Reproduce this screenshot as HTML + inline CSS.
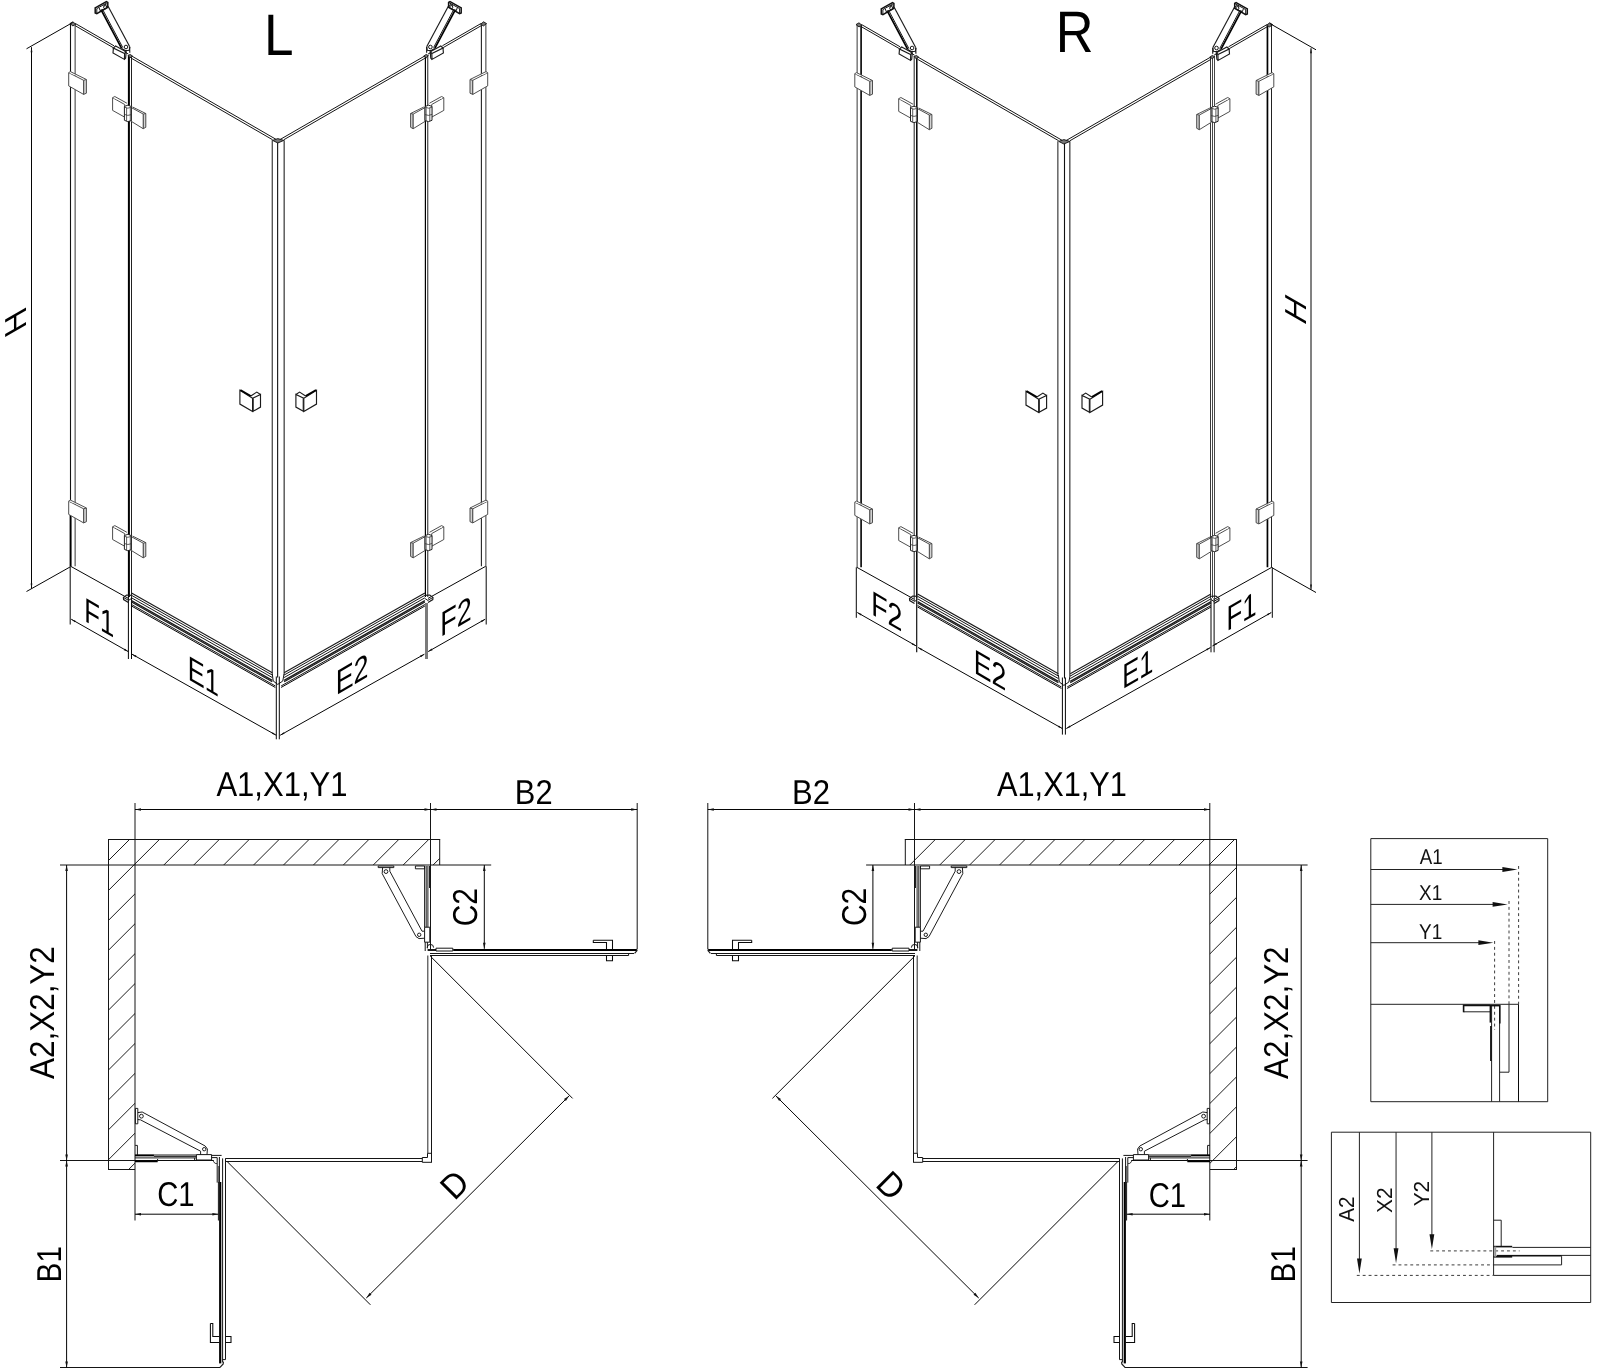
<!DOCTYPE html>
<html><head><meta charset="utf-8"><meta name="domain" content="Diagram"><title>drawing</title>
<style>
html,body{margin:0;padding:0;background:#fff}
body{width:1600px;height:1371px;overflow:hidden}
svg{display:block;will-change:transform}
path,circle{fill:none;stroke:#111;stroke-width:1.1;stroke-linecap:butt;stroke-linejoin:miter}
.k{stroke:#1a1a1a;stroke-width:1.15}
.k2{stroke:#151515;stroke-width:1}
.kb{stroke:#000;stroke-width:1.7}
.kf{fill:#777;stroke:#111;stroke-width:0.9}
.kw{fill:#fff;stroke:#111;stroke-width:1.5}
.t{stroke:#050505;stroke-width:1}
.w{stroke:#151515;stroke-width:1}
.w1{stroke:#0a0a0a;stroke-width:1.05}
.ks{stroke:#1a1a1a;stroke-width:1.25}
.p{stroke:#111;stroke-width:0.95}
.h{stroke:#111;stroke-width:0.95}
.hp{stroke:#444;stroke-width:0.95;fill:#fff}
.hb{stroke:#222;stroke-width:1;fill:#fff}
.hb2{stroke:#333;stroke-width:0.8}
.hs{stroke:#444;stroke-width:0.95;fill:#d4d4d4}
.af{fill:#111;stroke:none}
.b{stroke:#222;stroke-width:1}
.bb{stroke:#111;stroke-width:1.6}
.gb{stroke:#999;stroke-width:2}
.d{stroke:#333;stroke-width:0.95;stroke-dasharray:2.9 3}
text{font-family:"Liberation Sans",sans-serif;fill:#000;text-rendering:geometricPrecision}
.tx{fill:#000}
.ta{fill:#111}
</style></head><body>
<svg width="1600" height="1371" viewBox="0 0 1600 1371">
<defs>
<clipPath id="cl"><path d="M108.5 839.5H439.7V865H135V1169.5H108.5Z"/></clipPath>
<clipPath id="cr"><path d="M1236.4 839.5H905.2V865H1209.9V1169.5H1236.4Z"/></clipPath>
</defs>
<rect x="0" y="0" width="1600" height="1371" fill="#fff"/>
<g id="isoL">
<g><path d="M70.5 23.3L70.5 566.3" style="stroke:#111;stroke-width:1.1"/>
<path d="M75.13 24.5L75.13 566.3" style="stroke:#444;stroke-width:1.07"/>
<path d="M70.6 514.8L70.6 566.3" style="stroke:#000;stroke-width:1.9"/>
<path class="kf" d="M69.9 23.6L72.9 21.8L75.8 24.3L72.9 25.9Z"/>
<path class="k2" d="M75.2 23.4L114 45.8"/>
<path class="k2" d="M75.2 25.7L113.2 47.64"/>
<path class="k2" d="M124.5 51.86L128.4 54.12"/>
<path class="t" d="M70.7 566.3L128.4 598.41"/>
<path d="M128.9 55.16L128.9 597" style="stroke:#000;stroke-width:2"/>
<path d="M131.5 56.2L131.5 597" style="stroke:#222;stroke-width:1"/>
<path class="t" d="M128.4 597L128.4 659"/>
<path class="t" d="M131.5 597L131.5 659"/>
<path class="k2" d="M131.5 55.9L277.5 140.19"/>
<path class="k2" d="M131.5 58.3L272.6 139.76"/>
<path class="kf" d="M128.1 55.6L130.2 54.4L132.7 56.2L130 57.8Z"/>
<path class="k" d="M131.5 592.9L272.3 672.66"/>
<path class="k2" d="M131.5 595.3L272.3 675.06"/>
<path class="k2" d="M131.5 597.8L272.3 677.56"/>
<path class="ks" d="M131.5 600.6L272.3 680.36"/>
<path class="ks" d="M131.5 602L272.3 681.76"/>
<path class="k2" d="M131.5 604.5L275.3 685.96"/>
<path class="t" d="M131.5 606L275.3 687.46"/>
<path class="k" d="M131.3 595.4L126.6 595L123.4 597.4L123.6 599.6L128.4 602.6"/>
<path class="k2" d="M123.4 597.4L128.6 600.4L131.3 598.6"/>
<path class="hs" d="M83.6 80.3L86.4 79.5L86.4 93.2L83.6 94.4Z"/>
<path class="hp" d="M68.7 72.7L83.6 80.3L83.6 94.4L68.7 85.9Z"/>
<path class="hp" d="M68.7 72.7L70.4 71.6L86.4 79.5"/>
<path class="hs" d="M83.6 508.8L86.4 508L86.4 521.7L83.6 522.9Z"/>
<path class="hp" d="M68.7 501.2L83.6 508.8L83.6 522.9L68.7 514.4Z"/>
<path class="hp" d="M68.7 501.2L70.4 500.1L86.4 508"/>
<path class="hp" d="M112.6 97.7L124.7 104.5L124.7 117.15L112.6 110.4Z"/>
<path class="hp" d="M112.6 97.7L114.8 96.5L126.9 103.2"/>
<path class="hs" d="M143.2 114.05L145.8 113.5L145.8 127.3L143.2 128.7Z"/>
<path class="hp" d="M131.4 107.6L143.2 114.05L143.2 128.7L131.4 121.4Z"/>
<path class="hp" d="M132.55 107L145.8 113.5"/>
<path class="hb" d="M124.4 106.4L124.4 120.3L127.8 121.6L131.4 120.6L131.4 106.6L127.9 105.2Z"/>
<path class="hb2" d="M124.4 114.4L127.8 115.4L131.4 114.6"/>
<path class="hb2" d="M124.4 107.2L127.8 108.2L131.4 107.2"/>
<path class="hb2" d="M126.6 107.8L126.6 121.2"/>
<path class="hb2" d="M130.3 107.6L130.3 121"/>
<path class="hp" d="M112.6 526.8L124.7 533.6L124.7 546.25L112.6 539.5Z"/>
<path class="hp" d="M112.6 526.8L114.8 525.6L126.9 532.3"/>
<path class="hs" d="M143.2 543.15L145.8 542.6L145.8 556.4L143.2 557.8Z"/>
<path class="hp" d="M131.4 536.7L143.2 543.15L143.2 557.8L131.4 550.5Z"/>
<path class="hp" d="M132.55 536.1L145.8 542.6"/>
<path class="hb" d="M124.4 535.5L124.4 549.4L127.8 550.7L131.4 549.7L131.4 535.7L127.9 534.3Z"/>
<path class="hb2" d="M124.4 543.5L127.8 544.5L131.4 543.7"/>
<path class="hb2" d="M124.4 536.3L127.8 537.3L131.4 536.3"/>
<path class="hb2" d="M126.6 536.9L126.6 550.3"/>
<path class="hb2" d="M130.3 536.7L130.3 550.1"/>
<path class="kw" d="M95.2 7.8L106.4 1.6L107.8 2.4L107.8 7.2L96.8 13.6L95.2 13Z"/>
<path class="k2" d="M96.8 8.6L96.8 13.6"/>
<path class="k2" d="M96.8 8.6L107.8 2.4"/>
<path class="kb" d="M101 9.6L121.6 48.4"/>
<path class="k2" d="M102.4 9L122.8 47.6"/>
<path class="k" d="M108.2 6.6L129.6 46.4"/>
<path class="k2" d="M103.5 5.5L106 4.4L108.2 6.6"/>
<path class="k2" d="M99.2 8L100.2 10.8L102.8 10"/>
<circle class="k2" cx="105.2" cy="7.2" r="1.6"/>
<path class="k" d="M121.6 48.4L125.2 50.6L129.2 50.2L129.9 46.8"/>
<circle class="k2" cx="126" cy="47" r="1.8"/>
<path class="k" d="M129.6 46.4L129.8 52.8"/>
<path class="k" d="M113.4 48L115.6 46L126.2 51.8L124.6 53.6Z"/>
<path class="k" d="M113.4 48L113 53L124.4 59.4L124.6 53.6"/>
<path class="k" d="M124.4 59.4L125.6 58.2L126.2 51.8"/>
<path class="k" d="M239.9 390.3L252.6 398.2L252.6 411.6L239.9 404.1Z"/>
<path class="k" d="M252.6 398.2L260.5 394.4L260.5 407.1L252.6 411.6"/>
<path class="k" d="M250.8 395.9L256.8 392.1L260.5 394.4"/>
<path class="kb" d="M240.4 390L250.8 395.9"/>
<path class="k2" d="M253.2 398.4L253.2 411.2"/>
<path class="t" d="M70.2 566.3L70.2 624.5"/>
<path class="t" d="M71.2 619.2L128.2 651.58"/>
<path class="af" d="M128.2 651.58L123.84 650.14L124.73 648.57Z"/>
<path class="af" d="M71.2 619.2L75.56 620.64L74.67 622.21Z"/>
<path class="t" d="M132 654.2L276.2 735.24"/>
<path class="af" d="M276.2 735.24L271.84 733.82L272.72 732.25Z"/>
<path class="af" d="M132 654.2L136.36 655.62L135.48 657.19Z"/>
<path class="t" d="M72.7 22.5L26.5 48.8"/>
<path class="t" d="M70.2 566.9L26.5 591.5"/>
<path class="t" d="M31.5 47.2L31.5 588.6"/>
<path class="af" d="M31.5 588.6L30.6 583.6L32.4 583.6Z"/>
<path class="af" d="M31.5 47.2L32.4 52.2L30.6 52.2Z"/></g>
<g transform="translate(556.4 0) scale(-1 1)"><path d="M70.53 23.3L70.53 566.3" style="stroke:#444;stroke-width:1.07"/>
<path d="M75 24.5L75 566.3" style="stroke:#222;stroke-width:1.1"/>
<path class="kf" d="M69.9 23.6L72.9 21.8L75.8 24.3L72.9 25.9Z"/>
<path class="k2" d="M75.2 23.4L114 45.8"/>
<path class="k2" d="M75.2 25.7L113.2 47.64"/>
<path class="k2" d="M124.5 51.86L128.4 54.12"/>
<path class="t" d="M70.7 566.3L128.4 598.41"/>
<path d="M128.7 55.08L128.7 597" style="stroke:#555;stroke-width:1.3"/>
<path d="M131 56L131 597" style="stroke:#000;stroke-width:1.2"/>
<path d="M129.9 603L129.9 659" style="stroke:#7a7a7a;stroke-width:3"/>
<path class="k2" d="M131.5 55.9L277.5 140.19"/>
<path class="k2" d="M131.5 58.3L272.6 139.76"/>
<path class="kf" d="M128.1 55.6L130.2 54.4L132.7 56.2L130 57.8Z"/>
<path class="k" d="M131.5 592.9L272.3 672.66"/>
<path class="k2" d="M131.5 595.3L272.3 675.06"/>
<path class="k2" d="M131.5 597.8L272.3 677.56"/>
<path class="ks" d="M131.5 600.6L272.3 680.36"/>
<path class="ks" d="M131.5 602L272.3 681.76"/>
<path class="k2" d="M131.5 604.5L275.3 685.96"/>
<path class="t" d="M131.5 606L275.3 687.46"/>
<path class="k" d="M131.3 595.4L126.6 595L123.4 597.4L123.6 599.6L128.4 602.6"/>
<path class="k2" d="M123.4 597.4L128.6 600.4L131.3 598.6"/>
<path class="hs" d="M83.6 80.3L86.4 79.5L86.4 93.2L83.6 94.4Z"/>
<path class="hp" d="M68.7 72.7L83.6 80.3L83.6 94.4L68.7 85.9Z"/>
<path class="hp" d="M68.7 72.7L70.4 71.6L86.4 79.5"/>
<path class="hs" d="M83.6 508.8L86.4 508L86.4 521.7L83.6 522.9Z"/>
<path class="hp" d="M68.7 501.2L83.6 508.8L83.6 522.9L68.7 514.4Z"/>
<path class="hp" d="M68.7 501.2L70.4 500.1L86.4 508"/>
<path class="hp" d="M112.6 97.7L124.7 104.5L124.7 117.15L112.6 110.4Z"/>
<path class="hp" d="M112.6 97.7L114.8 96.5L126.9 103.2"/>
<path class="hs" d="M143.2 114.05L145.8 113.5L145.8 127.3L143.2 128.7Z"/>
<path class="hp" d="M131.4 107.6L143.2 114.05L143.2 128.7L131.4 121.4Z"/>
<path class="hp" d="M132.55 107L145.8 113.5"/>
<path class="hb" d="M124.4 106.4L124.4 120.3L127.8 121.6L131.4 120.6L131.4 106.6L127.9 105.2Z"/>
<path class="hb2" d="M124.4 114.4L127.8 115.4L131.4 114.6"/>
<path class="hb2" d="M124.4 107.2L127.8 108.2L131.4 107.2"/>
<path class="hb2" d="M126.6 107.8L126.6 121.2"/>
<path class="hb2" d="M130.3 107.6L130.3 121"/>
<path class="hp" d="M112.6 526.8L124.7 533.6L124.7 546.25L112.6 539.5Z"/>
<path class="hp" d="M112.6 526.8L114.8 525.6L126.9 532.3"/>
<path class="hs" d="M143.2 543.15L145.8 542.6L145.8 556.4L143.2 557.8Z"/>
<path class="hp" d="M131.4 536.7L143.2 543.15L143.2 557.8L131.4 550.5Z"/>
<path class="hp" d="M132.55 536.1L145.8 542.6"/>
<path class="hb" d="M124.4 535.5L124.4 549.4L127.8 550.7L131.4 549.7L131.4 535.7L127.9 534.3Z"/>
<path class="hb2" d="M124.4 543.5L127.8 544.5L131.4 543.7"/>
<path class="hb2" d="M124.4 536.3L127.8 537.3L131.4 536.3"/>
<path class="hb2" d="M126.6 536.9L126.6 550.3"/>
<path class="hb2" d="M130.3 536.7L130.3 550.1"/>
<path class="kw" d="M95.2 7.8L106.4 1.6L107.8 2.4L107.8 7.2L96.8 13.6L95.2 13Z"/>
<path class="k2" d="M96.8 8.6L96.8 13.6"/>
<path class="k2" d="M96.8 8.6L107.8 2.4"/>
<path class="kb" d="M101 9.6L121.6 48.4"/>
<path class="k2" d="M102.4 9L122.8 47.6"/>
<path class="k" d="M108.2 6.6L129.6 46.4"/>
<path class="k2" d="M103.5 5.5L106 4.4L108.2 6.6"/>
<path class="k2" d="M99.2 8L100.2 10.8L102.8 10"/>
<circle class="k2" cx="105.2" cy="7.2" r="1.6"/>
<path class="k" d="M121.6 48.4L125.2 50.6L129.2 50.2L129.9 46.8"/>
<circle class="k2" cx="126" cy="47" r="1.8"/>
<path class="k" d="M129.6 46.4L129.8 52.8"/>
<path class="k" d="M113.4 48L115.6 46L126.2 51.8L124.6 53.6Z"/>
<path class="k" d="M113.4 48L113 53L124.4 59.4L124.6 53.6"/>
<path class="k" d="M124.4 59.4L125.6 58.2L126.2 51.8"/>
<path class="k" d="M239.9 390.3L252.6 398.2L252.6 411.6L239.9 404.1Z"/>
<path class="k" d="M252.6 398.2L260.5 394.4L260.5 407.1L252.6 411.6"/>
<path class="k" d="M250.8 395.9L256.8 392.1L260.5 394.4"/>
<path class="kb" d="M240.4 390L250.8 395.9"/>
<path class="k2" d="M253.2 398.4L253.2 411.2"/>
<path class="t" d="M70.2 566.3L70.2 624.5"/>
<path class="t" d="M71.2 619.2L128.2 651.58"/>
<path class="af" d="M128.2 651.58L123.84 650.14L124.73 648.57Z"/>
<path class="af" d="M71.2 619.2L75.56 620.64L74.67 622.21Z"/>
<path class="t" d="M132 654.2L276.2 735.24"/>
<path class="af" d="M276.2 735.24L271.84 733.82L272.72 732.25Z"/>
<path class="af" d="M132 654.2L136.36 655.62L135.48 657.19Z"/></g>
<path d="M272.23 140.2L272.23 674.5" style="stroke:#222;stroke-width:1.05"/>
<path d="M277.63 142L277.63 677.5" style="stroke:#111;stroke-width:1.1"/>
<path d="M284.15 140.2L284.15 674.5" style="stroke:#222;stroke-width:1.1"/>
<path class="kf" d="M272.6 140.4L277.8 138.6L283.8 140.4L277.8 143Z"/>
<path class="k2" d="M272.3 674L273.2 681L277.8 684.4L282.8 681L284 674"/>
<path class="t" d="M276.3 676.5L276.3 739.3"/>
<path class="t" d="M279.3 676.5L279.3 739.3"/>
<text class="tx" x="-2.11" y="0" font-size="34.5" textLength="29.88" lengthAdjust="spacingAndGlyphs" transform="matrix(1 0.58 0 1 86.4 622)">F1</text>
<text class="tx" x="-2.1" y="0" font-size="34.5" textLength="31.12" lengthAdjust="spacingAndGlyphs" transform="matrix(1 0.58 0 1 189.9 680.3)">E1</text>
<text class="tx" x="-2.22" y="0" font-size="34.5" textLength="32.88" lengthAdjust="spacingAndGlyphs" transform="matrix(1 -0.58 0 1 337.9 694.1)">E2</text>
<text class="tx" x="-2.22" y="0" font-size="34.5" textLength="31.42" lengthAdjust="spacingAndGlyphs" transform="matrix(1 -0.58 0 1 442.4 636)">F2</text>
<text class="tx" x="0" y="0" font-size="35" textLength="22.5" lengthAdjust="spacingAndGlyphs" transform="matrix(0 -1 0.866 -0.5 26.2 327.45)">H</text>
</g>
<g id="isoR" transform="translate(786.1 1)">
<g><path d="M71.03 23.3L71.03 566.3" style="stroke:#444;stroke-width:1.07"/>
<path d="M75 24.5L75 566.3" style="stroke:#000;stroke-width:1.6"/>
<path class="kf" d="M69.9 23.6L72.9 21.8L75.8 24.3L72.9 25.9Z"/>
<path class="k2" d="M75.2 23.4L114 45.8"/>
<path class="k2" d="M75.2 25.7L113.2 47.64"/>
<path class="k2" d="M124.5 51.86L128.4 54.12"/>
<path class="t" d="M70.7 566.3L128.4 598.41"/>
<path d="M128.1 54.84L128.1 597" style="stroke:#333;stroke-width:1.1"/>
<path d="M130.7 55.88L130.7 597" style="stroke:#000;stroke-width:1.5"/>
<path d="M130.6 597L130.6 651.3" style="stroke:#111;stroke-width:1.2"/>
<path d="M128.3 597L128.3 600" style="stroke:#555;stroke-width:1"/>
<path class="k2" d="M131.5 55.9L277.5 140.19"/>
<path class="k2" d="M131.5 58.3L272.6 139.76"/>
<path class="kf" d="M128.1 55.6L130.2 54.4L132.7 56.2L130 57.8Z"/>
<path class="k" d="M131.5 592.9L272.3 672.66"/>
<path class="k2" d="M131.5 595.3L272.3 675.06"/>
<path class="k2" d="M131.5 597.8L272.3 677.56"/>
<path class="ks" d="M131.5 600.6L272.3 680.36"/>
<path class="ks" d="M131.5 602L272.3 681.76"/>
<path class="k2" d="M131.5 604.5L275.3 685.96"/>
<path class="t" d="M131.5 606L275.3 687.46"/>
<path class="k" d="M131.3 595.4L126.6 595L123.4 597.4L123.6 599.6L128.4 602.6"/>
<path class="k2" d="M123.4 597.4L128.6 600.4L131.3 598.6"/>
<path class="hs" d="M83.6 80.3L86.4 79.5L86.4 93.2L83.6 94.4Z"/>
<path class="hp" d="M68.7 72.7L83.6 80.3L83.6 94.4L68.7 85.9Z"/>
<path class="hp" d="M68.7 72.7L70.4 71.6L86.4 79.5"/>
<path class="hs" d="M83.6 508.8L86.4 508L86.4 521.7L83.6 522.9Z"/>
<path class="hp" d="M68.7 501.2L83.6 508.8L83.6 522.9L68.7 514.4Z"/>
<path class="hp" d="M68.7 501.2L70.4 500.1L86.4 508"/>
<path class="hp" d="M112.6 97.7L124.7 104.5L124.7 117.15L112.6 110.4Z"/>
<path class="hp" d="M112.6 97.7L114.8 96.5L126.9 103.2"/>
<path class="hs" d="M143.2 114.05L145.8 113.5L145.8 127.3L143.2 128.7Z"/>
<path class="hp" d="M131.4 107.6L143.2 114.05L143.2 128.7L131.4 121.4Z"/>
<path class="hp" d="M132.55 107L145.8 113.5"/>
<path class="hb" d="M124.4 106.4L124.4 120.3L127.8 121.6L131.4 120.6L131.4 106.6L127.9 105.2Z"/>
<path class="hb2" d="M124.4 114.4L127.8 115.4L131.4 114.6"/>
<path class="hb2" d="M124.4 107.2L127.8 108.2L131.4 107.2"/>
<path class="hb2" d="M126.6 107.8L126.6 121.2"/>
<path class="hb2" d="M130.3 107.6L130.3 121"/>
<path class="hp" d="M112.6 526.8L124.7 533.6L124.7 546.25L112.6 539.5Z"/>
<path class="hp" d="M112.6 526.8L114.8 525.6L126.9 532.3"/>
<path class="hs" d="M143.2 543.15L145.8 542.6L145.8 556.4L143.2 557.8Z"/>
<path class="hp" d="M131.4 536.7L143.2 543.15L143.2 557.8L131.4 550.5Z"/>
<path class="hp" d="M132.55 536.1L145.8 542.6"/>
<path class="hb" d="M124.4 535.5L124.4 549.4L127.8 550.7L131.4 549.7L131.4 535.7L127.9 534.3Z"/>
<path class="hb2" d="M124.4 543.5L127.8 544.5L131.4 543.7"/>
<path class="hb2" d="M124.4 536.3L127.8 537.3L131.4 536.3"/>
<path class="hb2" d="M126.6 536.9L126.6 550.3"/>
<path class="hb2" d="M130.3 536.7L130.3 550.1"/>
<path class="kw" d="M95.2 7.8L106.4 1.6L107.8 2.4L107.8 7.2L96.8 13.6L95.2 13Z"/>
<path class="k2" d="M96.8 8.6L96.8 13.6"/>
<path class="k2" d="M96.8 8.6L107.8 2.4"/>
<path class="kb" d="M101 9.6L121.6 48.4"/>
<path class="k2" d="M102.4 9L122.8 47.6"/>
<path class="k" d="M108.2 6.6L129.6 46.4"/>
<path class="k2" d="M103.5 5.5L106 4.4L108.2 6.6"/>
<path class="k2" d="M99.2 8L100.2 10.8L102.8 10"/>
<circle class="k2" cx="105.2" cy="7.2" r="1.6"/>
<path class="k" d="M121.6 48.4L125.2 50.6L129.2 50.2L129.9 46.8"/>
<circle class="k2" cx="126" cy="47" r="1.8"/>
<path class="k" d="M129.6 46.4L129.8 52.8"/>
<path class="k" d="M113.4 48L115.6 46L126.2 51.8L124.6 53.6Z"/>
<path class="k" d="M113.4 48L113 53L124.4 59.4L124.6 53.6"/>
<path class="k" d="M124.4 59.4L125.6 58.2L126.2 51.8"/>
<path class="k" d="M239.9 390.3L252.6 398.2L252.6 411.6L239.9 404.1Z"/>
<path class="k" d="M252.6 398.2L260.5 394.4L260.5 407.1L252.6 411.6"/>
<path class="k" d="M250.8 395.9L256.8 392.1L260.5 394.4"/>
<path class="kb" d="M240.4 390L250.8 395.9"/>
<path class="k2" d="M253.2 398.4L253.2 411.2"/>
<path class="t" d="M70.2 566.3L70.2 616.8"/>
<path class="t" d="M71.2 611.5L130 644.9"/>
<path class="af" d="M130 644.9L125.64 643.46L126.53 641.89Z"/>
<path class="af" d="M71.2 611.5L75.56 612.94L74.67 614.51Z"/>
<path class="t" d="M132 646.5L276.2 727.54"/>
<path class="af" d="M276.2 727.54L271.84 726.12L272.72 724.55Z"/>
<path class="af" d="M132 646.5L136.36 647.92L135.48 649.49Z"/></g>
<g transform="translate(556.4 0) scale(-1 1)"><path d="M71 23.3L71 566.3" style="stroke:#222;stroke-width:1"/>
<path d="M75.05 24.5L75.05 566.3" style="stroke:#000;stroke-width:1.7"/>
<path class="kf" d="M69.9 23.6L72.9 21.8L75.8 24.3L72.9 25.9Z"/>
<path class="k2" d="M75.2 23.4L114 45.8"/>
<path class="k2" d="M75.2 25.7L113.2 47.64"/>
<path class="k2" d="M124.5 51.86L128.4 54.12"/>
<path class="t" d="M70.7 566.3L128.4 598.41"/>
<path d="M128 54.8L128 597" style="stroke:#333;stroke-width:0.9"/>
<path d="M130 55.6L130 597" style="stroke:#333;stroke-width:0.9"/>
<path d="M132 56.4L132 597" style="stroke:#222;stroke-width:0.9"/>
<path class="t" d="M128.4 597L128.4 651.3"/>
<path class="t" d="M131.5 597L131.5 651.3"/>
<path class="k2" d="M131.5 55.9L277.5 140.19"/>
<path class="k2" d="M131.5 58.3L272.6 139.76"/>
<path class="kf" d="M128.1 55.6L130.2 54.4L132.7 56.2L130 57.8Z"/>
<path class="k" d="M131.5 592.9L272.3 672.66"/>
<path class="k2" d="M131.5 595.3L272.3 675.06"/>
<path class="k2" d="M131.5 597.8L272.3 677.56"/>
<path class="ks" d="M131.5 600.6L272.3 680.36"/>
<path class="ks" d="M131.5 602L272.3 681.76"/>
<path class="k2" d="M131.5 604.5L275.3 685.96"/>
<path class="t" d="M131.5 606L275.3 687.46"/>
<path class="k" d="M131.3 595.4L126.6 595L123.4 597.4L123.6 599.6L128.4 602.6"/>
<path class="k2" d="M123.4 597.4L128.6 600.4L131.3 598.6"/>
<path class="hs" d="M83.6 80.3L86.4 79.5L86.4 93.2L83.6 94.4Z"/>
<path class="hp" d="M68.7 72.7L83.6 80.3L83.6 94.4L68.7 85.9Z"/>
<path class="hp" d="M68.7 72.7L70.4 71.6L86.4 79.5"/>
<path class="hs" d="M83.6 508.8L86.4 508L86.4 521.7L83.6 522.9Z"/>
<path class="hp" d="M68.7 501.2L83.6 508.8L83.6 522.9L68.7 514.4Z"/>
<path class="hp" d="M68.7 501.2L70.4 500.1L86.4 508"/>
<path class="hp" d="M112.6 97.7L124.7 104.5L124.7 117.15L112.6 110.4Z"/>
<path class="hp" d="M112.6 97.7L114.8 96.5L126.9 103.2"/>
<path class="hs" d="M143.2 114.05L145.8 113.5L145.8 127.3L143.2 128.7Z"/>
<path class="hp" d="M131.4 107.6L143.2 114.05L143.2 128.7L131.4 121.4Z"/>
<path class="hp" d="M132.55 107L145.8 113.5"/>
<path class="hb" d="M124.4 106.4L124.4 120.3L127.8 121.6L131.4 120.6L131.4 106.6L127.9 105.2Z"/>
<path class="hb2" d="M124.4 114.4L127.8 115.4L131.4 114.6"/>
<path class="hb2" d="M124.4 107.2L127.8 108.2L131.4 107.2"/>
<path class="hb2" d="M126.6 107.8L126.6 121.2"/>
<path class="hb2" d="M130.3 107.6L130.3 121"/>
<path class="hp" d="M112.6 526.8L124.7 533.6L124.7 546.25L112.6 539.5Z"/>
<path class="hp" d="M112.6 526.8L114.8 525.6L126.9 532.3"/>
<path class="hs" d="M143.2 543.15L145.8 542.6L145.8 556.4L143.2 557.8Z"/>
<path class="hp" d="M131.4 536.7L143.2 543.15L143.2 557.8L131.4 550.5Z"/>
<path class="hp" d="M132.55 536.1L145.8 542.6"/>
<path class="hb" d="M124.4 535.5L124.4 549.4L127.8 550.7L131.4 549.7L131.4 535.7L127.9 534.3Z"/>
<path class="hb2" d="M124.4 543.5L127.8 544.5L131.4 543.7"/>
<path class="hb2" d="M124.4 536.3L127.8 537.3L131.4 536.3"/>
<path class="hb2" d="M126.6 536.9L126.6 550.3"/>
<path class="hb2" d="M130.3 536.7L130.3 550.1"/>
<path class="kw" d="M95.2 7.8L106.4 1.6L107.8 2.4L107.8 7.2L96.8 13.6L95.2 13Z"/>
<path class="k2" d="M96.8 8.6L96.8 13.6"/>
<path class="k2" d="M96.8 8.6L107.8 2.4"/>
<path class="kb" d="M101 9.6L121.6 48.4"/>
<path class="k2" d="M102.4 9L122.8 47.6"/>
<path class="k" d="M108.2 6.6L129.6 46.4"/>
<path class="k2" d="M103.5 5.5L106 4.4L108.2 6.6"/>
<path class="k2" d="M99.2 8L100.2 10.8L102.8 10"/>
<circle class="k2" cx="105.2" cy="7.2" r="1.6"/>
<path class="k" d="M121.6 48.4L125.2 50.6L129.2 50.2L129.9 46.8"/>
<circle class="k2" cx="126" cy="47" r="1.8"/>
<path class="k" d="M129.6 46.4L129.8 52.8"/>
<path class="k" d="M113.4 48L115.6 46L126.2 51.8L124.6 53.6Z"/>
<path class="k" d="M113.4 48L113 53L124.4 59.4L124.6 53.6"/>
<path class="k" d="M124.4 59.4L125.6 58.2L126.2 51.8"/>
<path class="k" d="M239.9 390.3L252.6 398.2L252.6 411.6L239.9 404.1Z"/>
<path class="k" d="M252.6 398.2L260.5 394.4L260.5 407.1L252.6 411.6"/>
<path class="k" d="M250.8 395.9L256.8 392.1L260.5 394.4"/>
<path class="kb" d="M240.4 390L250.8 395.9"/>
<path class="k2" d="M253.2 398.4L253.2 411.2"/>
<path class="t" d="M70.2 566.3L70.2 616.8"/>
<path class="t" d="M71.2 611.5L130 644.9"/>
<path class="af" d="M130 644.9L125.64 643.46L126.53 641.89Z"/>
<path class="af" d="M71.2 611.5L75.56 612.94L74.67 614.51Z"/>
<path class="t" d="M132 646.5L276.2 727.54"/>
<path class="af" d="M276.2 727.54L271.84 726.12L272.72 724.55Z"/>
<path class="af" d="M132 646.5L136.36 647.92L135.48 649.49Z"/>
<path class="t" d="M72.7 22.5L26.5 48.8"/>
<path class="t" d="M70.2 566.9L26.5 591.5"/>
<path class="t" d="M31.5 47.2L31.5 588.6"/>
<path class="af" d="M31.5 588.6L30.6 583.6L32.4 583.6Z"/>
<path class="af" d="M31.5 47.2L32.4 52.2L30.6 52.2Z"/></g>
<path d="M271.77 140.2L271.77 674.5" style="stroke:#222;stroke-width:1.05"/>
<path d="M278.4 142L278.4 677.5" style="stroke:#111;stroke-width:1.1"/>
<path d="M283.75 140.2L283.75 674.5" style="stroke:#222;stroke-width:1.1"/>
<path class="kf" d="M272.6 140.4L277.8 138.6L283.8 140.4L277.8 143Z"/>
<path class="k2" d="M272.3 674L273.2 681L277.8 684.4L282.8 681L284 674"/>
<path class="t" d="M276.3 676.5L276.3 733.6"/>
<path class="t" d="M279.3 676.5L279.3 733.6"/>
<text class="tx" x="-2.21" y="0" font-size="34.5" textLength="31.2" lengthAdjust="spacingAndGlyphs" transform="matrix(1 0.58 0 1 87.3 614.3)">F2</text>
<text class="tx" x="-2.19" y="0" font-size="34.5" textLength="32.54" lengthAdjust="spacingAndGlyphs" transform="matrix(1 0.58 0 1 189.9 672.8)">E2</text>
<text class="tx" x="-2.1" y="0" font-size="34.5" textLength="31.12" lengthAdjust="spacingAndGlyphs" transform="matrix(1 -0.58 0 1 338.2 687.2)">E1</text>
<text class="tx" x="-2.13" y="0" font-size="34.5" textLength="30.11" lengthAdjust="spacingAndGlyphs" transform="matrix(1 -0.58 0 1 442.5 629.3)">F1</text>
<text class="tx" x="0" y="0" font-size="35" textLength="22.5" lengthAdjust="spacingAndGlyphs" transform="matrix(0 -1 0.866 0.5 519.6 325.45)">H</text>
</g>
<text class="tx" x="-4.39" y="0" font-size="58.4" textLength="29.58" lengthAdjust="spacingAndGlyphs" transform="translate(268.4 55)">L</text>
<text class="tx" x="-4.32" y="0" font-size="58.4" textLength="37.79" lengthAdjust="spacingAndGlyphs" transform="translate(1060 51.8)">R</text>
<g id="planL"><path class="w" d="M108 839.5L440.2 839.5"/>
<path class="w" d="M439.7 839.5L439.7 865"/>
<path class="w" d="M108.5 839L108.5 1170"/>
<path class="w" d="M108 1169.5L135 1169.5"/>
<path class="k2" d="M135 803L135 1220.5"/>
<path class="w1" d="M135 1160.4L213.4 1160.4"/>
<path class="p" d="M378.2 866L393.8 866L393.8 867.6L378.2 867.6Z"/>
<path class="p" d="M382.6 867.6L382.2 873.6L416 936.6L419 938.6L424.5 938.2"/>
<path class="p" d="M389.8 867.6L389.8 871.2L422 931.2L424.5 931.2"/>
<circle class="p" cx="386" cy="871.6" r="1.9"/>
<circle class="p" cx="419.2" cy="934.8" r="1.7"/>
<path class="p" d="M424.6 866L424.6 927.2"/>
<path class="p" d="M426.2 866L426.2 927.2"/>
<path class="p" d="M427.9 866L427.9 927.2"/>
<path class="k" d="M429.6 866L429.6 888"/>
<path class="p" d="M415.4 866L424.6 866L424.6 868.8L415.4 868.8Z"/>
<path class="k2" d="M424.6 927.2L429.8 927.2L429.8 942.2L424.6 942.2Z"/>
<path class="k2" d="M427.2 947.6 A3.2 3.2 0 0 1 433.6 947.6"/>
<path class="k2" d="M425.2 942.2L425.2 951"/>
<path class="k2" d="M427.4 942.2L427.4 948.4"/>
<path d="M453.2 950L636.9 950" style="stroke:#000;stroke-width:1.9"/>
<path class="k2" d="M436 948.2L452.8 948.2L452.8 951L436 951Z"/>
<path d="M427.6 950L436 950" style="stroke:#000;stroke-width:1.8"/>
<path class="w" d="M430 953.5L634 953.5"/>
<path class="w" d="M430 955.5L628.6 955.5"/>
<path class="k2" d="M628.6 955.5L628.6 953.5"/>
<path class="k" d="M636.6 948.9L637 950.6L634.6 953.4"/>
<path class="w1" d="M593.3 940.3L612.5 940.3L612.5 949"/>
<path class="w1" d="M593.3 940.3L593.3 942.5L606.5 942.5L606.5 949"/>
<path class="w1" d="M606.5 955.5L606.5 960.7L612.5 960.7L612.5 955.5"/>
<path d="M427.8 955.5L427.8 1153.3" style="stroke:#3a3a3a;stroke-width:1.1"/>
<path class="w" d="M431.5 955.5L431.5 1162.3"/>
<path class="w" d="M225.4 1158.5L422.3 1158.5"/>
<path class="w" d="M225.4 1161.5L422.3 1161.5"/>
<path class="k2" d="M422.3 1157.5L427.5 1157.5L427.5 1153.3L431.5 1153.3"/>
<path class="k2" d="M422.3 1157.5L422.3 1162.3L431.9 1162.3"/>
<path class="t" d="M430.4 956.2L572.6 1098.4"/>
<path class="t" d="M227 1161.4L370.4 1304.8"/>
<path class="p" d="M135.4 1108.4L137.8 1108.4L137.8 1123.8L135.4 1123.8Z"/>
<path class="p" d="M137.8 1112.6L142.2 1112L205.2 1146L207.4 1149L207 1154.5"/>
<path class="p" d="M137.8 1119.6L140.4 1119.8L200.6 1151.2L200.6 1154.5"/>
<circle class="p" cx="141.4" cy="1116.2" r="1.9"/>
<circle class="p" cx="204.2" cy="1149.2" r="1.7"/>
<path class="p" d="M135 1155L196.4 1155"/>
<path class="p" d="M153.9 1156.4L196.4 1156.4"/>
<path class="p" d="M135 1157.9L196.4 1157.9"/>
<path class="kb" d="M135 1155.5L153.9 1155.5"/>
<path class="kb" d="M135 1161.4L157.6 1161.4"/>
<path class="k2" d="M157.6 1161.4L157.6 1159"/>
<path class="p" d="M135.2 1145.4L137.4 1145.4L137.4 1155"/>
<path class="k2" d="M196.4 1154.6L211.6 1154.6L211.6 1160L196.4 1160Z"/>
<path class="k2" d="M194.6 1157.9L194.6 1160"/>
<path class="k2" d="M213.4 1160.2 A3.2 3.2 0 0 0 216.8 1163.6"/>
<path class="k2" d="M211.6 1155.4L221.6 1155.4"/>
<path class="k2" d="M211.6 1157.6L217.2 1157.6"/>
<path d="M220.2 1182L220.2 1363.4" style="stroke:#000;stroke-width:2.2"/>
<path class="k2" d="M217.2 1157.6L217.2 1182.6"/>
<path class="k2" d="M218.9 1166L218.9 1182.6"/>
<path class="k2" d="M219.4 1157L219.4 1182"/>
<path class="w" d="M222.6 1158.4L222.6 1362.4"/>
<path class="w" d="M225.5 1158.4L225.5 1359.6"/>
<path class="k2" d="M222.6 1359.6L225.5 1359.6"/>
<path class="k" d="M220 1367.4L223.2 1364L223.4 1361.6"/>
<path class="w1" d="M210.4 1323.4L210.4 1342.4L219.2 1342.4"/>
<path class="w1" d="M210.4 1323.4L212.8 1323.4L212.8 1336.4L219.2 1336.4"/>
<path class="w1" d="M225.5 1336.4L231 1336.4L231 1342.4L225.5 1342.4"/>
<path class="w" d="M430.5 803L430.5 950"/>
<path class="k2" d="M637.2 803L637.2 949"/>
<path class="t" d="M135 809.5L430.5 809.5"/>
<path class="af" d="M430.5 809.5L424.5 810.8L424.5 808.2Z"/>
<path class="af" d="M135 809.5L141 808.2L141 810.8Z"/>
<path class="t" d="M430.5 809.5L637.2 809.5"/>
<path class="af" d="M637.2 809.5L631.2 810.8L631.2 808.2Z"/>
<path class="af" d="M430.5 809.5L436.5 808.2L436.5 810.8Z"/>
<path class="t" d="M135 1214.2L218.4 1214.2"/>
<path class="af" d="M218.4 1214.2L212.4 1215.5L212.4 1212.9Z"/>
<path class="af" d="M135 1214.2L141 1212.9L141 1215.5Z"/>
<path class="k2" d="M218.4 1182L218.4 1220.5"/>
<path class="t" d="M366.3 1298L569.2 1095.8"/>
<path class="af" d="M569.2 1095.8L565.87 1100.96L564.03 1099.11Z"/>
<path class="af" d="M366.3 1298L369.63 1292.84L371.47 1294.69Z"/><g clip-path="url(#cl)">
<path class="h" d="M-210.04 820L-580.04 1190"/>
<path class="h" d="M-180.12 820L-550.12 1190"/>
<path class="h" d="M-150.2 820L-520.2 1190"/>
<path class="h" d="M-120.28 820L-490.28 1190"/>
<path class="h" d="M-90.36 820L-460.36 1190"/>
<path class="h" d="M-60.44 820L-430.44 1190"/>
<path class="h" d="M-30.52 820L-400.52 1190"/>
<path class="h" d="M-0.6 820L-370.6 1190"/>
<path class="h" d="M29.32 820L-340.68 1190"/>
<path class="h" d="M59.24 820L-310.76 1190"/>
<path class="h" d="M89.16 820L-280.84 1190"/>
<path class="h" d="M119.08 820L-250.92 1190"/>
<path class="h" d="M149 820L-221 1190"/>
<path class="h" d="M178.92 820L-191.08 1190"/>
<path class="h" d="M208.84 820L-161.16 1190"/>
<path class="h" d="M238.76 820L-131.24 1190"/>
<path class="h" d="M268.68 820L-101.32 1190"/>
<path class="h" d="M298.6 820L-71.4 1190"/>
<path class="h" d="M328.52 820L-41.48 1190"/>
<path class="h" d="M358.44 820L-11.56 1190"/>
<path class="h" d="M388.36 820L18.36 1190"/>
<path class="h" d="M418.28 820L48.28 1190"/>
<path class="h" d="M448.2 820L78.2 1190"/>
<path class="h" d="M478.12 820L108.12 1190"/>
<path class="h" d="M508.04 820L138.04 1190"/>
<path class="h" d="M537.96 820L167.96 1190"/>
</g><path class="k2" d="M60 865L491.2 865"/>
<path class="w" d="M60 1160.5L135 1160.5"/>
<path class="w" d="M60 1367.5L220.2 1367.5"/>
<path class="t" d="M484.3 865L484.3 948.8"/>
<path class="af" d="M484.3 948.8L483 942.8L485.6 942.8Z"/>
<path class="af" d="M484.3 865L485.6 871L483 871Z"/>
<path class="t" d="M66.6 865L66.6 1160.5"/>
<path class="af" d="M66.6 1160.5L65.3 1154.5L67.9 1154.5Z"/>
<path class="af" d="M66.6 865L67.9 871L65.3 871Z"/>
<path class="t" d="M66.6 1160.5L66.6 1367.5"/>
<path class="af" d="M66.6 1367.5L65.3 1361.5L67.9 1361.5Z"/>
<path class="af" d="M66.6 1160.5L67.9 1166.5L65.3 1166.5Z"/></g>
<g id="planR"><g transform="translate(1345 0) scale(-1 1)"><path class="w" d="M108 839.5L440.2 839.5"/>
<path class="w" d="M439.7 839.5L439.7 865"/>
<path class="w" d="M108.5 839L108.5 1170"/>
<path class="w" d="M108 1169.5L135 1169.5"/>
<path class="k2" d="M135.2 803L135.2 1220.5"/>
<path class="w1" d="M135 1160.4L213.4 1160.4"/>
<path class="p" d="M378.2 866L393.8 866L393.8 867.6L378.2 867.6Z"/>
<path class="p" d="M382.6 867.6L382.2 873.6L416 936.6L419 938.6L424.5 938.2"/>
<path class="p" d="M389.8 867.6L389.8 871.2L422 931.2L424.5 931.2"/>
<circle class="p" cx="386" cy="871.6" r="1.9"/>
<circle class="p" cx="419.2" cy="934.8" r="1.7"/>
<path class="p" d="M424.6 866L424.6 927.2"/>
<path class="p" d="M426.2 866L426.2 927.2"/>
<path class="p" d="M427.9 866L427.9 927.2"/>
<path class="k" d="M429.6 866L429.6 888"/>
<path class="p" d="M415.4 866L424.6 866L424.6 868.8L415.4 868.8Z"/>
<path class="k2" d="M424.6 927.2L429.8 927.2L429.8 942.2L424.6 942.2Z"/>
<path class="k2" d="M427.2 947.6 A3.2 3.2 0 0 1 433.6 947.6"/>
<path class="k2" d="M425.2 942.2L425.2 951"/>
<path class="k2" d="M427.4 942.2L427.4 948.4"/>
<path d="M453.2 950L636.9 950" style="stroke:#000;stroke-width:1.9"/>
<path class="k2" d="M436 948.2L452.8 948.2L452.8 951L436 951Z"/>
<path d="M427.6 950L436 950" style="stroke:#000;stroke-width:1.8"/>
<path class="w" d="M430 953.5L634 953.5"/>
<path class="w" d="M430 955.5L628.6 955.5"/>
<path class="k2" d="M628.6 955.5L628.6 953.5"/>
<path class="k" d="M636.6 948.9L637 950.6L634.6 953.4"/>
<path class="w1" d="M593.3 940.3L612.5 940.3L612.5 949"/>
<path class="w1" d="M593.3 940.3L593.3 942.5L606.5 942.5L606.5 949"/>
<path class="w1" d="M606.5 955.5L606.5 960.7L612.5 960.7L612.5 955.5"/>
<path d="M427.8 955.5L427.8 1153.3" style="stroke:#3a3a3a;stroke-width:1.1"/>
<path class="w" d="M431.5 955.5L431.5 1162.3"/>
<path class="w" d="M225.4 1158.5L422.3 1158.5"/>
<path class="w" d="M225.4 1161.5L422.3 1161.5"/>
<path class="k2" d="M422.3 1157.5L427.5 1157.5L427.5 1153.3L431.5 1153.3"/>
<path class="k2" d="M422.3 1157.5L422.3 1162.3L431.9 1162.3"/>
<path class="t" d="M430.4 956.2L572.6 1098.4"/>
<path class="t" d="M227 1161.4L370.4 1304.8"/>
<path class="p" d="M135.4 1108.4L137.8 1108.4L137.8 1123.8L135.4 1123.8Z"/>
<path class="p" d="M137.8 1112.6L142.2 1112L205.2 1146L207.4 1149L207 1154.5"/>
<path class="p" d="M137.8 1119.6L140.4 1119.8L200.6 1151.2L200.6 1154.5"/>
<circle class="p" cx="141.4" cy="1116.2" r="1.9"/>
<circle class="p" cx="204.2" cy="1149.2" r="1.7"/>
<path class="p" d="M135 1155L196.4 1155"/>
<path class="p" d="M153.9 1156.4L196.4 1156.4"/>
<path class="p" d="M135 1157.9L196.4 1157.9"/>
<path class="kb" d="M135 1155.5L153.9 1155.5"/>
<path class="kb" d="M135 1161.4L157.6 1161.4"/>
<path class="k2" d="M157.6 1161.4L157.6 1159"/>
<path class="p" d="M135.2 1145.4L137.4 1145.4L137.4 1155"/>
<path class="k2" d="M196.4 1154.6L211.6 1154.6L211.6 1160L196.4 1160Z"/>
<path class="k2" d="M194.6 1157.9L194.6 1160"/>
<path class="k2" d="M213.4 1160.2 A3.2 3.2 0 0 0 216.8 1163.6"/>
<path class="k2" d="M211.6 1155.4L221.6 1155.4"/>
<path class="k2" d="M211.6 1157.6L217.2 1157.6"/>
<path d="M220.2 1182L220.2 1363.4" style="stroke:#000;stroke-width:2.2"/>
<path class="k2" d="M217.2 1157.6L217.2 1182.6"/>
<path class="k2" d="M218.9 1166L218.9 1182.6"/>
<path class="k2" d="M219.4 1157L219.4 1182"/>
<path class="w" d="M222.6 1158.4L222.6 1362.4"/>
<path class="w" d="M225.5 1158.4L225.5 1359.6"/>
<path class="k2" d="M222.6 1359.6L225.5 1359.6"/>
<path class="k" d="M220 1367.4L223.2 1364L223.4 1361.6"/>
<path class="w1" d="M210.4 1323.4L210.4 1342.4L219.2 1342.4"/>
<path class="w1" d="M210.4 1323.4L212.8 1323.4L212.8 1336.4L219.2 1336.4"/>
<path class="w1" d="M225.5 1336.4L231 1336.4L231 1342.4L225.5 1342.4"/>
<path class="w" d="M430.5 803L430.5 950"/>
<path class="k2" d="M637.2 803L637.2 949"/>
<path class="t" d="M135 809.5L430.5 809.5"/>
<path class="af" d="M430.5 809.5L424.5 810.8L424.5 808.2Z"/>
<path class="af" d="M135 809.5L141 808.2L141 810.8Z"/>
<path class="t" d="M430.5 809.5L637.2 809.5"/>
<path class="af" d="M637.2 809.5L631.2 810.8L631.2 808.2Z"/>
<path class="af" d="M430.5 809.5L436.5 808.2L436.5 810.8Z"/>
<path class="t" d="M135 1214.2L218.4 1214.2"/>
<path class="af" d="M218.4 1214.2L212.4 1215.5L212.4 1212.9Z"/>
<path class="af" d="M135 1214.2L141 1212.9L141 1215.5Z"/>
<path class="k2" d="M218.4 1182L218.4 1220.5"/>
<path class="t" d="M366.3 1298L569.2 1095.8"/>
<path class="af" d="M569.2 1095.8L565.87 1100.96L564.03 1099.11Z"/>
<path class="af" d="M366.3 1298L369.63 1292.84L371.47 1294.69Z"/></g><g clip-path="url(#cr)">
<path class="h" d="M894.96 820L524.96 1190"/>
<path class="h" d="M924.88 820L554.88 1190"/>
<path class="h" d="M954.8 820L584.8 1190"/>
<path class="h" d="M984.72 820L614.72 1190"/>
<path class="h" d="M1014.64 820L644.64 1190"/>
<path class="h" d="M1044.56 820L674.56 1190"/>
<path class="h" d="M1074.48 820L704.48 1190"/>
<path class="h" d="M1104.4 820L734.4 1190"/>
<path class="h" d="M1134.32 820L764.32 1190"/>
<path class="h" d="M1164.24 820L794.24 1190"/>
<path class="h" d="M1194.16 820L824.16 1190"/>
<path class="h" d="M1224.08 820L854.08 1190"/>
<path class="h" d="M1254 820L884 1190"/>
<path class="h" d="M1283.92 820L913.92 1190"/>
<path class="h" d="M1313.84 820L943.84 1190"/>
<path class="h" d="M1343.76 820L973.76 1190"/>
<path class="h" d="M1373.68 820L1003.68 1190"/>
<path class="h" d="M1403.6 820L1033.6 1190"/>
<path class="h" d="M1433.52 820L1063.52 1190"/>
<path class="h" d="M1463.44 820L1093.44 1190"/>
<path class="h" d="M1493.36 820L1123.36 1190"/>
<path class="h" d="M1523.28 820L1153.28 1190"/>
<path class="h" d="M1553.2 820L1183.2 1190"/>
<path class="h" d="M1583.12 820L1213.12 1190"/>
<path class="h" d="M1613.04 820L1243.04 1190"/>
<path class="h" d="M1642.96 820L1272.96 1190"/>
</g><path class="k2" d="M866.1 865L1307.6 865"/>
<path class="t" d="M872.9 865L872.9 948.8"/>
<path class="af" d="M872.9 948.8L871.6 942.8L874.2 942.8Z"/>
<path class="af" d="M872.9 865L874.2 871L871.6 871Z"/>
<path class="w" d="M1209.9 1160.5L1307.6 1160.5"/>
<path class="w" d="M1124.7 1367.5L1307.6 1367.5"/>
<path class="t" d="M1301.2 865L1301.2 1160.5"/>
<path class="af" d="M1301.2 1160.5L1299.9 1154.5L1302.5 1154.5Z"/>
<path class="af" d="M1301.2 865L1302.5 871L1299.9 871Z"/>
<path class="t" d="M1301.2 1160.5L1301.2 1367.5"/>
<path class="af" d="M1301.2 1367.5L1299.9 1361.5L1302.5 1361.5Z"/>
<path class="af" d="M1301.2 1160.5L1302.5 1166.5L1299.9 1166.5Z"/></g>
<text class="tx" x="-0.08" y="0" font-size="34.5" textLength="131.06" lengthAdjust="spacingAndGlyphs" transform="translate(216.5 796.2)">A1,X1,Y1</text>
<text class="tx" x="-2.55" y="0" font-size="34.5" textLength="37.76" lengthAdjust="spacingAndGlyphs" transform="translate(517.4 803.75)">B2</text>
<text class="tx" x="-1.5" y="0" font-size="34.5" textLength="38.32" lengthAdjust="spacingAndGlyphs" transform="translate(477.1 924.8) rotate(-90)">C2</text>
<text class="tx" x="-0.08" y="0" font-size="34.5" textLength="132.65" lengthAdjust="spacingAndGlyphs" transform="translate(54.2 1078.8) rotate(-90)">A2,X2,Y2</text>
<text class="tx" x="-2.45" y="0" font-size="34.5" textLength="36.39" lengthAdjust="spacingAndGlyphs" transform="translate(61.2 1280) rotate(-90)">B1</text>
<text class="tx" x="-1.46" y="0" font-size="34.5" textLength="37.38" lengthAdjust="spacingAndGlyphs" transform="translate(158.7 1206.3)">C1</text>
<text class="tx" x="-2.72" y="0" font-size="34.5" textLength="23.77" lengthAdjust="spacingAndGlyphs" transform="translate(456.5 1199.6) rotate(-45)">D</text>
<text class="tx" x="-2.56" y="0" font-size="34.5" textLength="37.93" lengthAdjust="spacingAndGlyphs" transform="translate(794.6 803.7)">B2</text>
<text class="tx" x="-0.08" y="0" font-size="34.5" textLength="129.84" lengthAdjust="spacingAndGlyphs" transform="translate(997.1 796.1)">A1,X1,Y1</text>
<text class="tx" x="-1.5" y="0" font-size="34.5" textLength="38.32" lengthAdjust="spacingAndGlyphs" transform="translate(865.8 924.6) rotate(-90)">C2</text>
<text class="tx" x="-0.08" y="0" font-size="34.5" textLength="132.35" lengthAdjust="spacingAndGlyphs" transform="translate(1287.9 1078.8) rotate(-90)">A2,X2,Y2</text>
<text class="tx" x="-2.45" y="0" font-size="34.5" textLength="36.39" lengthAdjust="spacingAndGlyphs" transform="translate(1295.3 1280) rotate(-90)">B1</text>
<text class="tx" x="-1.46" y="0" font-size="34.5" textLength="37.38" lengthAdjust="spacingAndGlyphs" transform="translate(1150.2 1207.2)">C1</text>
<text class="tx" x="-2.72" y="0" font-size="34.5" textLength="23.77" lengthAdjust="spacingAndGlyphs" transform="translate(876.2 1187.4) rotate(45)">D</text>
<path class="b" d="M1370.8 838.6L1547.7 838.6L1547.7 1101.7L1370.8 1101.7Z"/>
<path class="b" d="M1370.8 869.5L1510.6 869.5"/>
<path class="af" d="M1517.4 869.5L1502.4 871.9L1502.4 867.1Z"/>
<text class="ta" x="-0.05" y="0" font-size="21.4" textLength="22.85" lengthAdjust="spacingAndGlyphs" transform="translate(1419.8 863.9)">A1</text>
<path class="b" d="M1370.8 904.4L1500.8 904.4"/>
<path class="af" d="M1507.6 904.4L1492.6 906.8L1492.6 902Z"/>
<text class="ta" x="-0.43" y="0" font-size="21.4" textLength="23.24" lengthAdjust="spacingAndGlyphs" transform="translate(1419.4 900)">X1</text>
<path class="b" d="M1370.8 942.7L1486.6 942.7"/>
<path class="af" d="M1493.4 942.7L1478.4 945.1L1478.4 940.3Z"/>
<text class="ta" x="-0.43" y="0" font-size="21.4" textLength="23.24" lengthAdjust="spacingAndGlyphs" transform="translate(1419.4 938.8)">Y1</text>
<path class="d" d="M1518.6 866L1518.6 1004"/>
<path class="d" d="M1509 901L1509 1004"/>
<path class="d" d="M1494.6 941L1494.6 1030"/>
<path class="b" d="M1370.8 1004.3L1518.6 1004.3"/>
<path class="w1" d="M1518.5 1004.3L1518.5 1101.7"/>
<path class="b" d="M1509 1004.3L1509 1072.2L1499.6 1072.2"/>
<path class="b" d="M1491.6 1006L1491.6 1101.7"/>
<path class="b" d="M1499.6 1006L1499.6 1101.7"/>
<path class="b" d="M1490.2 1011.8L1463.6 1011.8"/>
<path class="bb" d="M1463.6 1012.2L1463.6 1005.4L1490.2 1005.4"/>
<path class="bb" d="M1490.4 1005L1490.4 1022.6"/>
<path class="bb" d="M1490.4 1005.6L1499.8 1005.6"/>
<path class="bb" d="M1499.8 1005L1499.8 1023.4"/>
<path class="bb" d="M1490.9 1026L1490.9 1061"/>
<path class="b" d="M1331.4 1132.2L1590.7 1132.2L1590.7 1302.5L1331.4 1302.5Z"/>
<path class="b" d="M1359.4 1132.2L1359.4 1266.6"/>
<path class="af" d="M1359.4 1273.6L1357 1258.6L1361.8 1258.6Z"/>
<text class="ta" x="-0.05" y="0" font-size="21.7" textLength="25.14" lengthAdjust="spacingAndGlyphs" transform="translate(1353.9 1221.75) rotate(-90)">A2</text>
<path class="b" d="M1396.05 1132.2L1396.05 1256.2"/>
<path class="af" d="M1396.05 1263.2L1393.65 1248.2L1398.45 1248.2Z"/>
<text class="ta" x="-0.47" y="0" font-size="21.7" textLength="25.58" lengthAdjust="spacingAndGlyphs" transform="translate(1391.9 1212.5) rotate(-90)">X2</text>
<path class="b" d="M1431.9 1132.2L1431.9 1242.2"/>
<path class="af" d="M1431.9 1249.2L1429.5 1234.2L1434.3 1234.2Z"/>
<text class="ta" x="-0.47" y="0" font-size="21.7" textLength="25.58" lengthAdjust="spacingAndGlyphs" transform="translate(1428.85 1205.9) rotate(-90)">Y2</text>
<path class="d" d="M1356.8 1275.4L1493.6 1275.4"/>
<path class="d" d="M1392.6 1264.9L1493.6 1264.9"/>
<path class="d" d="M1430.3 1250.9L1519.6 1250.9"/>
<path class="b" d="M1493.6 1132.2L1493.6 1275.4"/>
<path class="b" d="M1493.6 1275.4L1590.7 1275.4"/>
<path class="b" d="M1493.6 1264.9L1561.6 1264.9L1561.6 1256.2"/>
<path class="b" d="M1512.4 1247.4L1590.7 1247.4"/>
<path class="b" d="M1496.8 1255.4L1590.7 1255.4"/>
<path class="b" d="M1493.6 1220.2L1501.2 1220.2L1501.2 1246.4"/>
<path class="bb" d="M1493.6 1246.6L1512.2 1246.6"/>
<path class="bb" d="M1493.6 1256.8L1512.2 1256.8"/>
<path class="gb" d="M1495.2 1246.6L1495.2 1256.8"/>
<path class="bb" d="M1496.8 1255.7L1561.6 1255.7"/>
</svg></body></html>
